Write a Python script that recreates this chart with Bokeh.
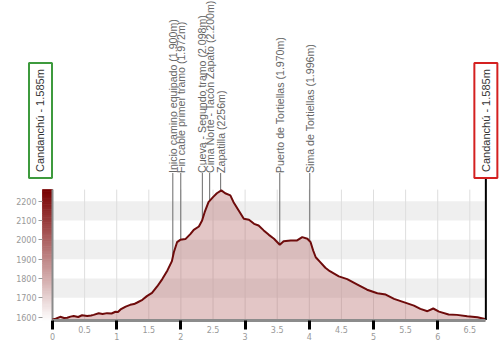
import numpy as np
from bokeh.plotting import figure
from bokeh.models import Range1d, LinearAxis, FixedTicker, ColumnDataSource
from bokeh.core.properties import value
from bokeh.embed import file_html
from bokeh.resources import INLINE

# ---------------- data ----------------
dist = [0.00, 0.05, 0.12, 0.18, 0.23, 0.28, 0.33, 0.40, 0.46, 0.54, 0.60, 0.64, 0.72, 0.78, 0.85,
        0.92, 0.98, 1.02, 1.06, 1.14, 1.21, 1.27, 1.32, 1.40, 1.47, 1.55, 1.63, 1.71, 1.79, 1.86,
        1.89, 1.94, 1.99, 2.07, 2.15, 2.20, 2.28, 2.33, 2.37, 2.43, 2.50, 2.56, 2.63, 2.69, 2.77,
        2.82, 2.90, 2.98, 3.06, 3.14, 3.21, 3.29, 3.37, 3.45, 3.54, 3.60, 3.71, 3.81, 3.89, 3.97,
        4.02, 4.06, 4.10, 4.17, 4.25, 4.32, 4.46, 4.59, 4.75, 4.90, 5.06, 5.19, 5.32, 5.47, 5.63,
        5.73, 5.84, 5.93, 6.02, 6.17, 6.30, 6.46, 6.62, 6.72, 6.75]
elev = [1588, 1592, 1602, 1596, 1597, 1603, 1606, 1601, 1610, 1606, 1609, 1612, 1620, 1617, 1621,
        1619, 1628, 1627, 1640, 1655, 1664, 1668, 1676, 1690, 1709, 1726, 1759, 1797, 1842, 1890,
        1936, 1988, 2000, 2004, 2031, 2052, 2069, 2100, 2143, 2195, 2221, 2241, 2256, 2241, 2230,
        2195, 2152, 2109, 2104, 2083, 2074, 2049, 2026, 2006, 1975, 1993, 1997, 1997, 2014, 2006,
        1988, 1945, 1910, 1885, 1856, 1838, 1811, 1797, 1769, 1742, 1724, 1717, 1695, 1678, 1660,
        1643, 1631, 1645, 1629, 1614, 1612, 1605, 1600, 1592, 1587]

marker_names = ["Inicio camino equipado (1.900m)", "Fin cable primer tramo  (1.972m)",
                "Cueva - Segundo tramo (2.098m)", "Cima Norte - Tacón Zapato (2.200m)",
                "Zapatilla (2256m)", "Puerto de Tortiellas (1.970m)", "Sima de Tortiellas (1.996m)"]
marker_km = [1.874, 1.998, 2.334, 2.448, 2.619, 3.540, 4.007]

start_label = "Candanchú - 1.585m"
end_label = "Candanchú - 1.585m"

y_ticks = [1600, 1700, 1800, 1900, 2000, 2100, 2200]
x_major_ticks = [0, 1, 2, 3, 4, 5, 6]
x_half_ticks = [0.5, 1.5, 2.5, 3.5, 4.5, 5.5, 6.5]

# ---------------- layout constants ----------------
YMIN, YMAX = 1585, 2260
XMAX = dist[-1]
LABEL_Y = 2346          # bottom of the rotated marker labels
BOX_Y = 2617            # centre of the start / end boxes
BOX_BOTTOM = 2317
BAR_X0 = -0.156         # left edge of colour bar (y axis location)
START_BOX_X = -0.187

p = figure(width=500, height=360, x_range=Range1d(-0.810, 6.978), y_range=Range1d(1376.0, 3238.1),
           min_border=0, toolbar_location=None, output_backend="svg",
           x_axis_location=None, y_axis_location=None)
p.outline_line_color = None
p.xgrid.visible = False
p.ygrid.visible = False
p.background_fill_color = "white"

# alternating horizontal bands
band_b = [y_ticks[i] for i in range(1, len(y_ticks) - 1, 2)]
band_t = [y_ticks[i + 1] for i in range(1, len(y_ticks) - 1, 2)]
p.quad(left=0, right=XMAX, bottom=band_b, top=band_t, fill_color="#efefef", line_color=None)

# vertical grid lines every 0.5 km
grid_x = sorted(x_half_ticks + x_major_ticks[1:])
p.segment(x0=grid_x, y0=YMIN, x1=grid_x, y1=YMAX, line_color="#dedede", line_width=1)

# colour gradient bar on the left
n = 60
edges = np.linspace(YMIN, YMAX, n + 1)
cols = []
for i in range(n):
    t = (i + 0.5) / n
    r = int(255 + (120 - 255) * t)
    g = int(255 + (0 - 255) * t)
    b = int(255 + (0 - 255) * t)
    cols.append("#%02x%02x%02x" % (r, g, b))
p.quad(left=BAR_X0, right=0, bottom=edges[:-1], top=edges[1:], fill_color=cols,
       line_color=cols, line_width=0.8)
p.segment(x0=[0], y0=[YMIN], x1=[0], y1=[YMAX], line_color="#8a8a8a", line_width=2)

# marker lines
marker_elev = list(np.interp(marker_km, dist, elev))
p.segment(x0=marker_km, y0=marker_elev, x1=marker_km, y1=LABEL_Y, line_color="#6a6a6a", line_width=1)

# area + profile
p.varea(x=dist, y1=YMIN, y2=elev, fill_color="#b56a6a", fill_alpha=0.38)
p.line(x=dist, y=elev, line_color="#6e0b0b", line_width=2)

# right border line
p.segment(x0=[XMAX], y0=[YMIN], x1=[XMAX], y1=[BOX_BOTTOM], line_color="black", line_width=2)

# marker labels
src = ColumnDataSource(dict(x=marker_km, y=[LABEL_Y] * len(marker_km), t=marker_names))
p.text(x="x", y="y", text="t", source=src, angle=np.pi / 2, text_align="left",
       text_baseline="middle", text_font=value("Liberation Sans"), text_font_size="10.6px",
       text_color="#666666")

# start / end boxes
p.rect(x=[START_BOX_X], y=[BOX_Y], width=23, height=115, width_units="screen", height_units="screen",
       fill_color="white", line_color="#3d9a3d", line_width=2)
p.rect(x=[XMAX], y=[BOX_Y], width=23, height=115, width_units="screen", height_units="screen",
       fill_color="white", line_color="#d42020", line_width=2)
p.text(x=[START_BOX_X, XMAX], y=[BOX_Y, BOX_Y], text=[start_label, end_label], angle=np.pi / 2,
       text_align="center", text_baseline="middle", text_font=value("Liberation Sans"),
       text_font_size="11px", text_color="#333333")

# axes
yax = LinearAxis(fixed_location=BAR_X0, ticker=FixedTicker(ticks=y_ticks))
yax.axis_line_color = None
yax.major_tick_out = 4
yax.major_tick_in = 0
yax.minor_tick_line_color = None
yax.major_tick_line_color = "#999999"
yax.major_label_text_font = "DejaVu Sans"
yax.major_label_text_font_size = "8px"
yax.major_label_text_color = "#999999"
yax.major_label_standoff = 2
p.add_layout(yax, "left")

xax = LinearAxis(fixed_location=YMIN, ticker=FixedTicker(ticks=x_major_ticks), bounds=(0, XMAX))
xax.axis_line_color = "#8c8c8c"
xax.axis_line_width = 3
xax.major_tick_line_color = "black"
xax.major_tick_line_width = 3
xax.major_tick_out = 9
xax.major_tick_in = 0
xax.minor_tick_line_color = None
xax.major_label_text_font = "DejaVu Sans"
xax.major_label_text_font_size = "8px"
xax.major_label_text_color = "#999999"
xax.major_label_standoff = 4
p.add_layout(xax, "below")

hax = LinearAxis(fixed_location=YMIN, ticker=FixedTicker(ticks=x_half_ticks))
hax.axis_line_color = None
hax.major_tick_out = 0
hax.major_tick_in = 0
hax.minor_tick_line_color = None
hax.major_label_text_font = "DejaVu Sans"
hax.major_label_text_font_size = "8px"
hax.major_label_text_color = "#999999"
hax.major_label_standoff = 6
p.add_layout(hax, "below")

open("out.html", "w").write(file_html(p, INLINE))
